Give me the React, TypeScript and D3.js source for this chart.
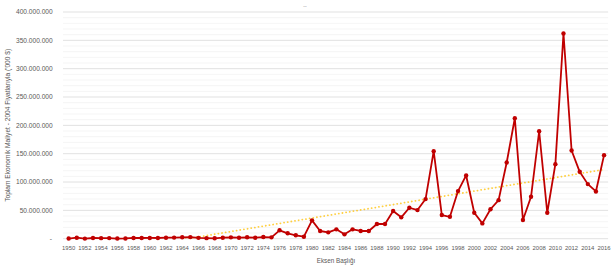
import React from "react";
import * as d3 from "d3";

// categories (years)
const years = [
  1950, 1951, 1952, 1953, 1954, 1955, 1956, 1957, 1958, 1959,
  1960, 1961, 1962, 1963, 1964, 1965, 1966, 1967, 1968, 1969,
  1970, 1971, 1972, 1973, 1974, 1975, 1976, 1977, 1978, 1979,
  1980, 1981, 1982, 1983, 1984, 1985, 1986, 1987, 1988, 1989,
  1990, 1991, 1992, 1993, 1994, 1995, 1996, 1997, 1998, 1999,
  2000, 2001, 2002, 2003, 2004, 2005, 2006, 2007, 2008, 2009,
  2010, 2011, 2012, 2013, 2014, 2015, 2016,
];

// total economic cost, in millions of '000 $
const costMillions = [
  0.3, 1.8, 0.2, 1.2, 1.0, 1.1, 0.3, 0.4, 1.3, 1.2,
  1.3, 1.2, 1.8, 1.9, 2.5, 2.8, 1.5, 1.0, 0.7, 1.8,
  2.4, 1.8, 2.5, 1.8, 2.9, 2.4, 14.8, 9.5, 6.0, 3.5,
  32.4, 13.6, 11.2, 16.5, 7.7, 16.5, 13.6, 13.6, 25.9, 25.9,
  48.8, 37.7, 54.6, 50.5, 69.9, 154.4, 41.7, 38.7, 84, 111.6,
  45.8, 27, 52, 68, 134.5, 212.5, 33, 74, 189.6, 45.8,
  131.5, 362, 155.6, 118, 96.3, 83.4, 147.4,
];

const yTicks = [0, 50, 100, 150, 200, 250, 300, 350, 400];
const xLabelYears = years.filter((y) => (y - 1950) % 2 === 0);

const W = 612;
const H = 277;
const FONT = "'Liberation Sans', Arial, sans-serif";
const TXT = "#595959";

export default function App() {
  const x = d3.scaleBand<number>().domain(years).range([64.6, 608.1]);
  const y = d3.scaleLinear().domain([0, 400]).range([238.7, 12]);
  const cx = (yr: number) => (x(yr) as number) + x.bandwidth() / 2;

  const data = years.map((yr, i) => ({ yr, v: costMillions[i] }));
  const line = d3
    .line<{ yr: number; v: number }>()
    .x((d) => cx(d.yr))
    .y((d) => y(d.v));

  // linear trendline (least squares over category index)
  const n = data.length;
  const xs = data.map((_, i) => i + 1);
  const mx = d3.mean(xs) as number;
  const my = d3.mean(costMillions) as number;
  const slope =
    (d3.sum(xs, (xi, i) => (xi - mx) * (costMillions[i] - my)) as number) /
    (d3.sum(xs, (xi) => (xi - mx) * (xi - mx)) as number);
  const icpt = my - slope * mx;
  const trend = [
    { yr: years[0], v: icpt + slope * 1 },
    { yr: years[n - 1], v: icpt + slope * n },
  ];

  const minorTicks = d3.range(0, 401, 10).filter((v) => v % 50 !== 0);
  const fmt = (v: number) =>
    v === 0 ? "-" : d3.format(",")(v * 1e6).replace(/,/g, ".");

  const [x0, x1] = [63, 608.1];

  return (
    <svg
      width={W}
      height={H}
      style={{ position: "absolute", left: 0, top: 0, background: "#fff" }}
      fontFamily={FONT}
    >
      <defs>
        <clipPath id="plot">
          <rect x={x0} y={y(400)} width={x1 - x0} height={y(0) - y(400)} />
        </clipPath>
      </defs>

      <text x={305} y={7.5} fontSize={5} fill="#8c8c8c" textAnchor="middle">
        --
      </text>

      {/* minor gridlines */}
      {minorTicks.map((v) => (
        <line key={"m" + v} x1={x0} x2={x1} y1={y(v)} y2={y(v)} stroke="#F2F2F2" strokeWidth={0.8} />
      ))}
      {/* major gridlines */}
      {yTicks.map((v) => (
        <line key={"g" + v} x1={x0} x2={x1} y1={y(v)} y2={y(v)} stroke="#D9D9D9" strokeWidth={0.8} />
      ))}

      {/* y tick labels */}
      {yTicks.map((v) => (
        <text
          key={"t" + v}
          x={v === 0 ? 52 : 52.7}
          y={y(v)}
          dy="0.35em"
          fontSize={6.6}
          fill={TXT}
          textAnchor="end"
        >
          {fmt(v)}
        </text>
      ))}

      {/* x tick labels */}
      {xLabelYears.map((yr) => (
        <text key={"x" + yr} x={cx(yr)} y={250.3} fontSize={5.9} fill={TXT} textAnchor="middle">
          {yr}
        </text>
      ))}

      {/* trendline */}
      <path
        d={line(trend) as string}
        clipPath="url(#plot)"
        fill="none"
        stroke="#FFC000"
        strokeOpacity={0.75}
        strokeWidth={1.8}
        strokeDasharray="0.1 3.6"
        strokeLinecap="round"
      />

      {/* series */}
      <path d={line(data) as string} fill="none" stroke="#C00000" strokeWidth={1.8} strokeLinejoin="round" />
      {data.map((d) => (
        <circle key={d.yr} cx={cx(d.yr)} cy={y(d.v)} r={2.2} fill="#C00000" />
      ))}

      {/* axis titles */}
      <text x={336} y={262.5} fontSize={6.3} fill={TXT} textAnchor="middle">
        Eksen Başlığı
      </text>
      <text
        transform={`translate(9.5,${(y(0) + y(400)) / 2}) rotate(-90)`}
        fontSize={6.6}
        fill={TXT}
        textAnchor="middle"
      >
        Toplam Ekonomik Maliyet - 2004 Fiyatlarıyla ('000 $)
      </text>
    </svg>
  );
}
